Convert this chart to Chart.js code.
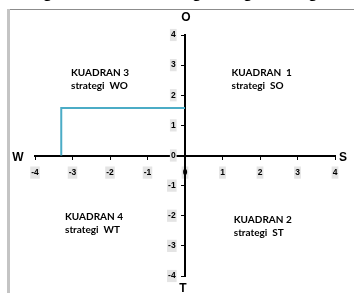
<!DOCTYPE html>
<html>
<head>
<meta charset="utf-8">
<script src="https://cdn.jsdelivr.net/npm/chart.js@4.4.0/dist/chart.umd.min.js"></script>
<style>
  html, body { margin: 0; padding: 0; background: #fff; }
  #wrap { width: 354px; height: 293px; }
</style>
</head>
<body>
<div id="wrap"><canvas id="myChart" width="354" height="293"></canvas></div>
<script>
// posisi strategi (garis biru)
const pathX = [-3.3, -3.3, 0];
const pathY = [0, 1.58, 1.58];

const axisMin = -4;
const axisMax = 4;

// teks kuadran
const quadTitles = ['KUADRAN  1', 'KUADRAN 2', 'KUADRAN 3', 'KUADRAN 4'];
const quadStrategies = ['strategi  SO', 'strategi  ST', 'strategi  WO', 'strategi  WT'];
const quadX = [1.24, 1.3, -3.04, -3.2];
const quadY = [2.76, -2.15, 2.76, -2.02];

const axisNames = { top: 'O', bottom: 'T', left: 'W', right: 'S' };
const chartTitle = 'Diagram Posisi Strategi Pengembangan';

const points = pathX.map(function (x, i) { return { x: x, y: pathY[i] }; });

const decor = {
  id: 'decor',
  beforeDraw: function (chart) {
    const c = chart.ctx;
    c.save();
    // bingkai
    c.strokeStyle = '#8c8c8c';
    c.lineWidth = 1;
    c.beginPath();
    c.moveTo(8, 9.5);
    c.lineTo(354, 9.5);
    c.stroke();
    c.strokeStyle = '#c4c4c4';
    c.lineWidth = 3;
    c.beginPath();
    c.moveTo(8.5, 9);
    c.lineTo(8.5, 293);
    c.stroke();
    // judul (terpotong)
    c.fillStyle = '#000';
    c.font = 'bold 17px "Liberation Sans"';
    c.textAlign = 'center';
    c.textBaseline = 'alphabetic';
    c.fillText(chartTitle, 177, -2.5);
    c.restore();
  },
  afterDraw: function (chart) {
    const c = chart.ctx;
    const xs = chart.scales.x, ys = chart.scales.y;
    const x0 = xs.getPixelForValue(0), y0 = ys.getPixelForValue(0);
    c.save();
    c.fillStyle = '#000';
    c.font = 'bold 12px "Liberation Sans"';
    c.textAlign = 'center';
    c.textBaseline = 'middle';
    c.fillText(axisNames.top, x0 + 1, ys.top - 17);
    c.fillText(axisNames.bottom, x0 - 2, ys.bottom + 13);
    c.fillText(axisNames.left, xs.left - 17, y0 + 2);
    c.fillText(axisNames.right, xs.right + 8, y0 + 2);
    c.font = 'bold 10px Lato';
    c.textAlign = 'left';
    quadTitles.forEach(function (t, i) {
      const px = xs.getPixelForValue(quadX[i]);
      const py = ys.getPixelForValue(quadY[i]);
      c.fillText(t, px, py);
      c.fillText(quadStrategies[i], px, py + 13);
    });
    c.restore();
  }
};

const tickFont = { family: 'Liberation Sans', size: 8.5, weight: 'bold' };

const ctx = document.getElementById('myChart').getContext('2d');
const myChart = new Chart(ctx, {
  type: 'scatter',
  data: {
    datasets: [{
      data: points,
      showLine: true,
      borderColor: '#4bacc6',
      borderWidth: 2,
      pointRadius: 0,
      fill: false
    }]
  },
  options: {
    responsive: false,
    animation: false,
    layout: { padding: { left: 35, right: 19, top: 35, bottom: 17 } },
    plugins: { legend: { display: false }, tooltip: { enabled: false } },
    scales: {
      x: {
        type: 'linear',
        min: axisMin,
        max: axisMax,
        position: { y: 0 },
        border: { color: '#000', width: 2 },
        grid: { drawOnChartArea: false, color: '#000', tickLength: 3 },
        ticks: {
          stepSize: 1, color: '#000', font: tickFont, padding: 9,
          showLabelBackdrop: true, backdropColor: '#e4e4e4', backdropPadding: 1
        }
      },
      y: {
        type: 'linear',
        min: axisMin,
        max: axisMax,
        position: { x: 0 },
        border: { color: '#000', width: 2 },
        grid: { drawOnChartArea: false, color: '#000', tickLength: 3 },
        ticks: { stepSize: 1, display: false }
      },
      // label sumbu y, sedikit di kiri garis sumbu
      yLabel: {
        type: 'linear',
        min: axisMin,
        max: axisMax,
        position: { x: -0.25 },
        border: { display: false },
        grid: { display: false },
        ticks: {
          stepSize: 1, color: '#000', font: tickFont,
          showLabelBackdrop: true, backdropColor: '#e4e4e4', backdropPadding: 1
        }
      }
    }
  },
  plugins: [decor]
});
</script>
</body>
</html>
